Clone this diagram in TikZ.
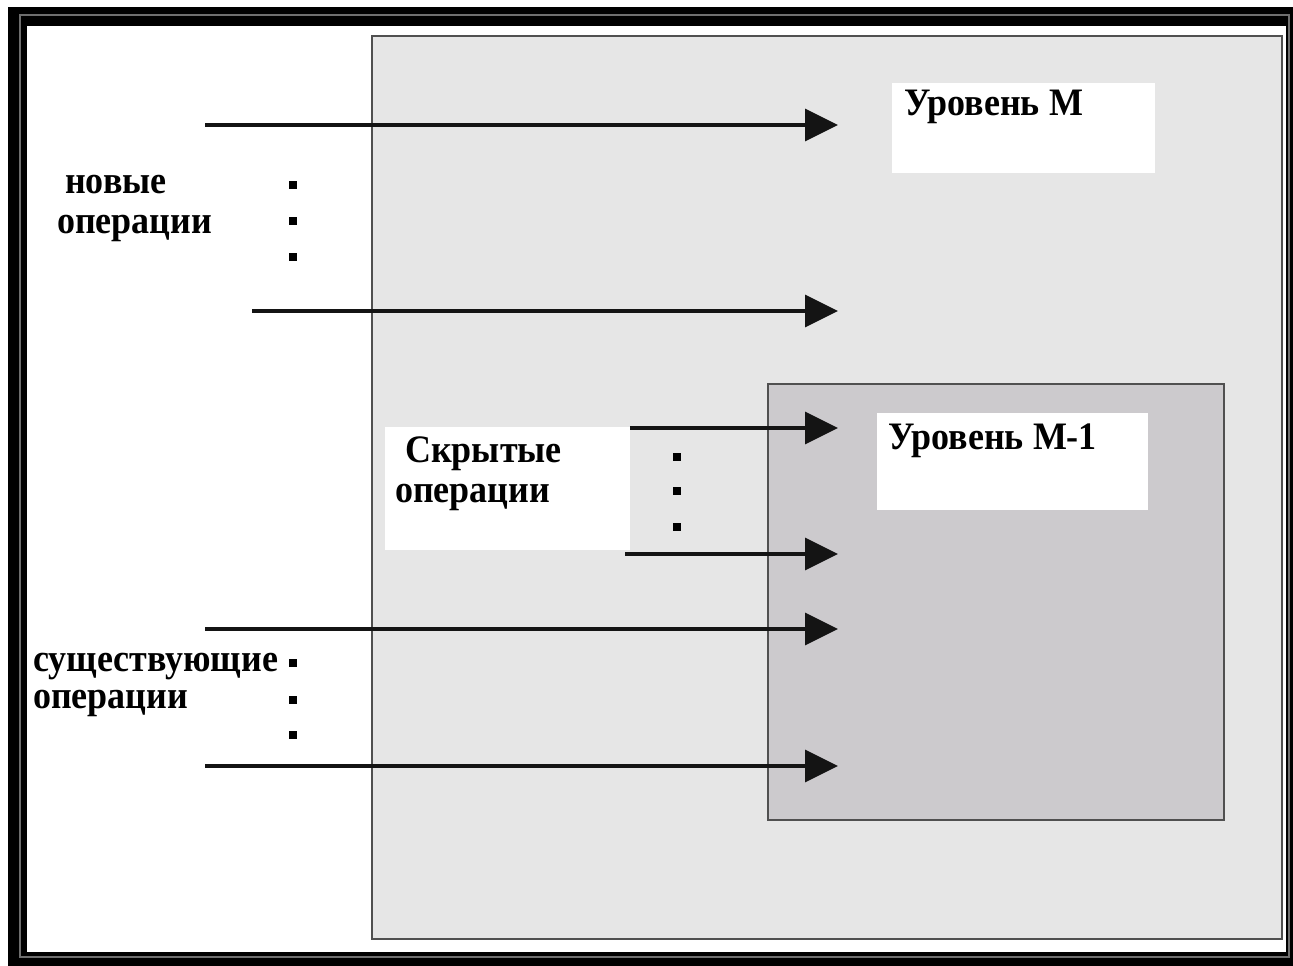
\documentclass[tikz,border=0pt]{standalone}
\usepackage{fontspec}
\setmainfont{Liberation Serif}
\usetikzlibrary{arrows.meta}
\definecolor{outerfill}{HTML}{E6E6E6}
\definecolor{innerfill}{HTML}{CCCACD}
\definecolor{edgegray}{HTML}{505050}
\definecolor{framegray}{HTML}{6E6E6E}
\begin{document}
\begin{tikzpicture}[x=1pt,y=-1pt,
  lbl/.style={anchor=base west, inner sep=0pt, yscale=1.08, font=\fontsize{36}{40}\selectfont\bfseries},
  flow/.style={line width=3.3pt, draw=black!92, -{Triangle[length=33pt,width=32pt]}},
  dotmark/.style={fill=black, draw=none, inner sep=0pt, minimum size=8pt, rectangle},
  panel/.style={draw=edgegray, line width=2.2pt, anchor=north west, inner sep=0pt},
  whitebox/.style={fill=white, draw=none, anchor=north west, inner sep=0pt}]
\useasboundingbox (0,0) rectangle (1293,966);

% heavy frame around the whole sheet
\fill[black] (8,7) rectangle (1293,966);
\draw[framegray, line width=1.2pt] (20,15) rectangle (1289,957);
\fill[white] (27,26) rectangle (1286,952);

% level M and level M-1 panels
\node[panel, fill=outerfill, minimum width=910pt, minimum height=903pt] (levM) at (371,35) {};
\node[panel, fill=innerfill, minimum width=456pt, minimum height=436pt] (levM1) at (767,383) {};

% white label boxes
\node[whitebox, minimum width=263pt, minimum height=90pt] (boxM) at (892,83) {};
\node[whitebox, minimum width=271pt, minimum height=97pt] (boxM1) at (877,413) {};
\node[whitebox, minimum width=245pt, minimum height=123pt] (boxH) at (385,427) {};

% labels
\node[lbl] (tM) at (904,115) {Уровень М};
\node[lbl] (tM1) at (888,449) {Уровень М-1};
\node[lbl] (tH1) at (405,462) {Скрытые};
\node[lbl] (tH2) at (395,502) {операции};
\node[lbl] (tN1) at (65,193) {новые};
\node[lbl] (tN2) at (57,233) {операции};
\node[lbl] (tE1) at (33,671) {существующие};
\node[lbl] (tE2) at (33,708) {операции};

% ellipsis dots
\node[dotmark] (n1) at (293,185) {};
\node[dotmark] (n2) at (293,221) {};
\node[dotmark] (n3) at (293,257) {};
\node[dotmark] (h1) at (677,457) {};
\node[dotmark] (h2) at (677,491) {};
\node[dotmark] (h3) at (677,527) {};
\node[dotmark] (e1) at (293,663) {};
\node[dotmark] (e2) at (293,700) {};
\node[dotmark] (e3) at (293,735) {};

% operation arrows
\coordinate (s1) at (205,125);  \coordinate (t1) at (838,125);
\coordinate (s2) at (252,311);  \coordinate (t2) at (838,311);
\coordinate (s3) at (630,428);  \coordinate (t3) at (838,428);
\coordinate (s4) at (625,554);  \coordinate (t4) at (838,554);
\coordinate (s5) at (205,629);  \coordinate (t5) at (838,629);
\coordinate (s6) at (205,766);  \coordinate (t6) at (838,766);
\foreach \i in {1,...,6} \draw[flow] (s\i) -- (t\i);
\end{tikzpicture}
\end{document}
